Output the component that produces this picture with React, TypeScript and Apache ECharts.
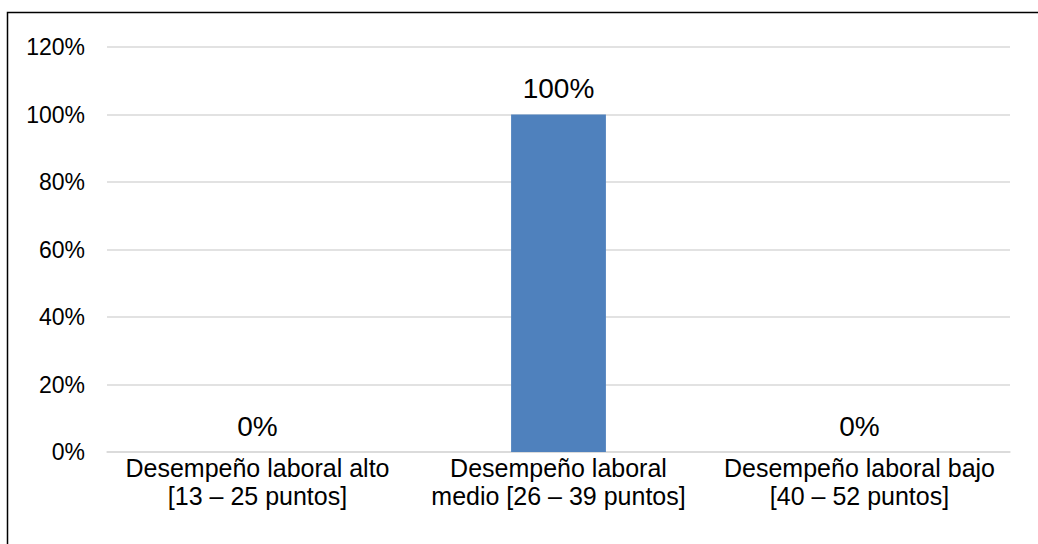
import React, { useEffect, useRef } from "react";
import * as echarts from "echarts";

const categories = [
  "Desempeño laboral alto\n[13 – 25 puntos]",
  "Desempeño laboral\nmedio [26 – 39 puntos]",
  "Desempeño laboral bajo\n[40 – 52 puntos]",
];
const values = [0, 100, 0];
const yTicks = [0, 20, 40, 60, 80, 100, 120];

export default function App() {
  const ref = useRef<HTMLDivElement>(null);
  useEffect(() => {
    document.body.style.margin = "0";
    const chart = echarts.init(ref.current!, null, { renderer: "svg" });
    const font = "'Liberation Sans', Arial, sans-serif";
    chart.setOption({
      animation: false,
      backgroundColor: "#ffffff",
      graphic: [
        {
          type: "rect",
          shape: { x: 7.5, y: 12.5, width: 1100, height: 600 },
          style: { fill: "none", stroke: "#000000", lineWidth: 1.5 },
          silent: true,
        },
      ],
      grid: { left: 107, right: 28, top: 47, bottom: 92, containLabel: false },
      xAxis: {
        type: "category",
        data: categories,
        axisLine: { show: true, lineStyle: { color: "#D9D9D9", width: 1.5 } },
        axisTick: { show: false },
        axisLabel: {
          color: "#000000",
          fontSize: 25,
          fontFamily: font,
          lineHeight: 28,
          margin: 2,
          interval: 0,
        },
      },
      yAxis: {
        type: "value",
        min: 0,
        max: 120,
        interval: 20,
        axisLine: { show: false },
        axisTick: { show: false },
        splitLine: { lineStyle: { color: "#D9D9D9", width: 1.5 } },
        axisLabel: {
          color: "#000000",
          fontSize: 23,
          fontFamily: font,
          margin: 22,
          formatter: (v: number) => (yTicks.includes(v) ? v + "%" : ""),
        },
      },
      series: [
        {
          type: "bar",
          data: values,
          barWidth: "31.5%",
          itemStyle: { color: "#4F81BD" },
          label: {
            show: true,
            position: "top",
            distance: 12,
            color: "#000000",
            fontSize: 28,
            fontFamily: font,
            formatter: (p: any) => p.value + "%",
          },
        },
      ],
    });
    return () => chart.dispose();
  }, []);
  return (
    <div
      ref={ref}
      style={{ position: "absolute", left: 0, top: 0, width: 1038, height: 544 }}
    />
  );
}
